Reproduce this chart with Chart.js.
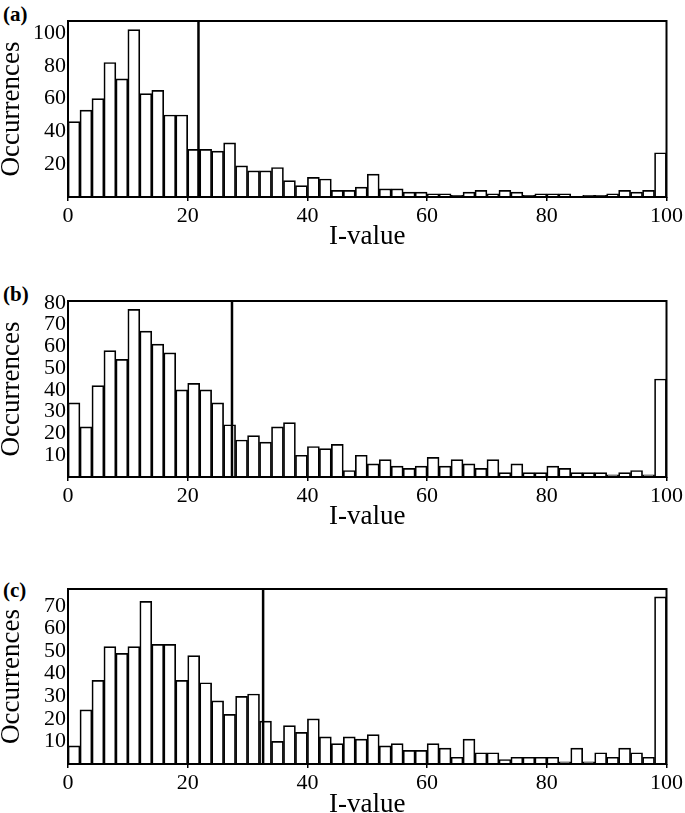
<!DOCTYPE html>
<html lang="en">
<head>
    <meta charset="UTF-8">
    <title>I-value histograms</title>
    <script src="https://cdn.jsdelivr.net/npm/chart.js@4.4.0/dist/chart.umd.min.js"></script>
    <style>
        body { margin: 0; width: 685px; height: 813px; overflow: hidden; background: #fff; position: relative; }
        .panel { position: absolute; left: 0; width: 685px; height: 250px; }
        .tag { position: absolute; font-family: "Liberation Serif", serif; font-weight: bold; font-size: 21px; color: #000; }
    </style>
</head>
<body>

    <div class="tag" style="left:3px; top:2px;">(a)</div>
    <div class="tag" style="left:3px; top:282px;">(b)</div>
    <div class="tag" style="left:3px; top:578px;">(c)</div>

    <div class="panel" style="top:0px;"><canvas id="chartA"></canvas></div>
    <div class="panel" style="top:280px;"><canvas id="chartB"></canvas></div>
    <div class="panel" style="top:568px;"><canvas id="chartC"></canvas></div>

    <script>

        // bin centres (bins of width 2 from 0 to 100)
        const binCentres = [1, 3, 5, 7, 9, 11, 13, 15, 17, 19, 21, 23, 25, 27, 29, 31, 33, 35, 37, 39,
            41, 43, 45, 47, 49, 51, 53, 55, 57, 59, 61, 63, 65, 67, 69, 71, 73, 75, 77, 79,
            81, 83, 85, 87, 89, 91, 93, 95, 97, 99];

        const countsA = [46, 53, 60, 82, 72, 102, 63, 65, 50, 50, 29, 29, 28, 33, 19, 16, 16, 18, 10, 7,
            12, 11, 4, 4, 6, 14, 5, 5, 3, 3, 2, 2, 1, 3, 4, 2, 4, 3, 1, 2,
            2, 2, 0, 1, 1, 2, 4, 3, 4, 27];
        const countsB = [34, 23, 42, 58, 54, 77, 67, 61, 57, 40, 43, 40, 34, 24, 17, 19, 16, 23, 25, 10,
            14, 13, 15, 3, 10, 6, 8, 5, 4, 5, 9, 5, 8, 6, 4, 8, 2, 6, 2, 2,
            5, 4, 2, 2, 2, 1, 2, 3, 1, 45];
        const countsC = [8, 24, 37, 52, 49, 52, 72, 53, 53, 37, 48, 36, 28, 22, 30, 31, 19, 10, 17, 14,
            20, 12, 9, 12, 11, 13, 8, 9, 6, 6, 9, 7, 3, 11, 5, 5, 2, 3, 3, 3,
            3, 1, 7, 1, 5, 3, 7, 5, 3, 74];

        // vertical threshold lines
        const thresholdA = 21.8;
        const thresholdB = 27.4;
        const thresholdC = 32.6;

        // y axis tops and tick labels
        const yMaxA = 107.3;
        const yMaxB = 80.8;
        const yMaxC = 77.5;
        const yTicksA = [20, 40, 60, 80, 100];
        const yTicksB = [10, 20, 30, 40, 50, 60, 70, 80];
        const yTicksC = [10, 20, 30, 40, 50, 60, 70];

        const xTicks = [0, 20, 40, 60, 80, 100];

        const serif = "'Liberation Serif', 'Times New Roman', serif";

        // box round the plot area
        const frame = {
            id: 'frame',
            afterDraw(chart) {
                const a = chart.chartArea;
                const c = chart.ctx;
                c.save();
                c.strokeStyle = '#000';
                c.lineWidth = 2;
                c.strokeRect(a.left, a.top, a.right - a.left, a.bottom - a.top);
                c.restore();
            }
        };

        function makePanel(id, counts, threshold, yMax, yTicks, xAxisHeight) {
            const bars = [];
            for (let i = 0; i < binCentres.length; i++) {
                bars.push({x: binCentres[i], y: counts[i]});
            }

            const ctx = document.getElementById(id).getContext('2d');
            return new Chart(ctx, {
                type: 'bar',
                data: {
                    datasets: [{
                        type: 'line',
                        data: [{x: threshold, y: 0}, {x: threshold, y: yMax}],
                        borderColor: '#000',
                        borderWidth: 2.5,
                        pointRadius: 0,
                        order: 0
                    }, {
                        data: bars,
                        backgroundColor: '#fff',
                        borderColor: '#000',
                        borderWidth: 1.7,
                        barPercentage: 1,
                        categoryPercentage: 1,
                        order: 1
                    }]
                },
                options: {
                    responsive: true,
                    maintainAspectRatio: false,
                    animation: false,
                    layout: { padding: { top: 21, right: 17, left: 0, bottom: 0 } },
                    plugins: {
                        legend: { display: false },
                        tooltip: { enabled: false }
                    },
                    scales: {
                        x: {
                            type: 'linear',
                            min: 0,
                            max: 100,
                            offset: false,
                            afterBuildTicks: (s) => { s.ticks = xTicks.map(v => ({value: v})); },
                            afterFit: (s) => { s.height = xAxisHeight; },
                            grid: { display: true, offset: false, drawOnChartArea: false, tickLength: 4, color: '#000', lineWidth: 1.5 },
                            border: { display: false },
                            ticks: {
                                autoSkip: false,
                                color: '#000',
                                padding: 2,
                                maxRotation: 0,
                                font: { family: serif, size: 22 }
                            },
                            title: {
                                display: true,
                                text: 'I-value',
                                color: '#000',
                                padding: { top: 0, bottom: 0 },
                                font: { family: serif, size: 27, lineHeight: 1 }
                            }
                        },
                        y: {
                            min: 0,
                            max: yMax,
                            afterBuildTicks: (s) => { s.ticks = yTicks.map(v => ({value: v})); },
                            afterFit: (s) => { s.width = 68; },
                            grid: { display: false, drawTicks: false, tickLength: 0 },
                            border: { display: false },
                            ticks: {
                                autoSkip: false,
                                color: '#000',
                                padding: 2,
                                font: { family: serif, size: 22 }
                            },
                            title: {
                                display: true,
                                text: 'Occurrences',
                                color: '#000',
                                padding: { top: -2, bottom: 0 },
                                font: { family: serif, size: 27, lineHeight: 1 }
                            }
                        }
                    }
                },
                plugins: [frame]
            });
        }

        makePanel('chartA', countsA, thresholdA, yMaxA, yTicksA, 53);
        makePanel('chartB', countsB, thresholdB, yMaxB, yTicksB, 53);
        makePanel('chartC', countsC, thresholdC, yMaxC, yTicksC, 54);

    </script>

</body>
</html>
